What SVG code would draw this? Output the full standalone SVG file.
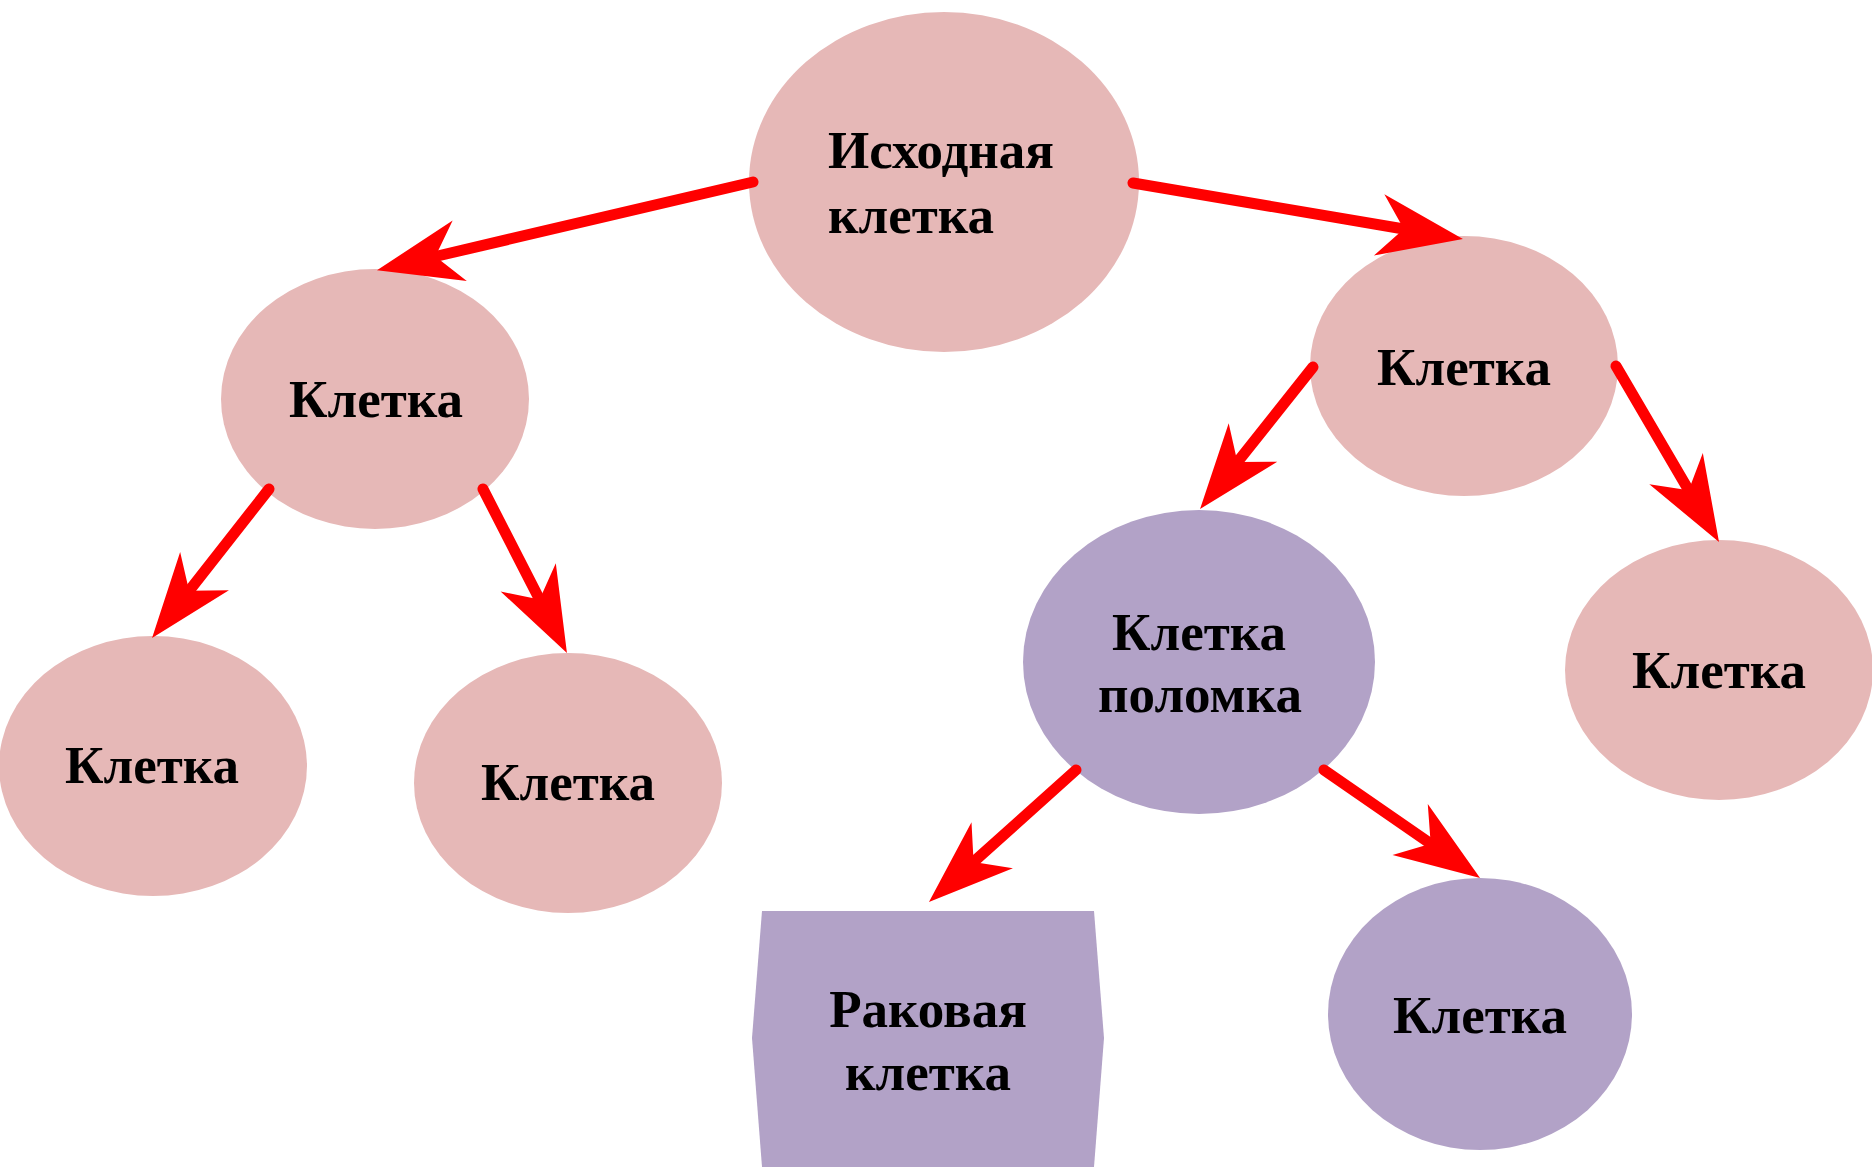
<svg xmlns="http://www.w3.org/2000/svg" width="1872" height="1167" viewBox="0 0 1872 1167">
<style>
.pink{fill:#E6B8B7}
.purple{fill:#B2A2C7}
.t{font-family:"Liberation Serif","Times New Roman",serif;font-weight:bold;font-size:53px;fill:#000;text-anchor:middle}
.tl{text-anchor:start}
.c{stroke:#FF0000;stroke-width:11;stroke-linecap:round;fill:none;marker-end:url(#ah)}
</style>
<defs>
<marker id="ah" markerUnits="userSpaceOnUse" markerWidth="86" markerHeight="64" refX="25" refY="31" orient="auto" overflow="visible">
<path d="M85,31 L0,0 L25,31 L0,62 Z" fill="#FF0000"/>
</marker>
</defs>
<rect width="1872" height="1167" fill="#FFFFFF"/>
<g id="root"><ellipse class="pink" cx="944" cy="182" rx="195" ry="170"/><text class="t tl" x="828" y="168">Исходная</text><text class="t tl" x="828" y="233">клетка</text></g>
<g id="left"><ellipse class="pink" cx="375" cy="399" rx="154" ry="130"/><text class="t" x="376" y="417">Клетка</text></g>
<g id="right"><ellipse class="pink" cx="1464" cy="366" rx="154" ry="130"/><text class="t" x="1464" y="385">Клетка</text></g>
<g id="leftleft"><ellipse class="pink" cx="153" cy="766" rx="154" ry="130"/><text class="t" x="152" y="783">Клетка</text></g>
<g id="leftright"><ellipse class="pink" cx="568" cy="783" rx="154" ry="130"/><text class="t" x="568" y="800">Клетка</text></g>
<g id="broken"><ellipse class="purple" cx="1199" cy="662" rx="176" ry="152"/><text class="t" x="1199" y="650">Клетка</text><text class="t" x="1200" y="712">поломка</text></g>
<g id="farright"><ellipse class="pink" cx="1719" cy="670" rx="154" ry="130"/><text class="t" x="1719" y="688">Клетка</text></g>
<g id="cancer"><polygon class="purple" points="762,911 1094,911 1104,1038 1094,1167 762,1167 752,1038"/><text class="t" x="928" y="1027">Раковая</text><text class="t" x="928" y="1090">клетка</text></g>
<g id="bottom"><ellipse class="purple" cx="1480" cy="1014" rx="152" ry="136"/><text class="t" x="1480" y="1033">Клетка</text></g>
<g id="connectors">
<line class="c" x1="753" y1="182" x2="435.4" y2="256.5"/>
<line class="c" x1="1133" y1="183" x2="1403.8" y2="229"/>
<line class="c" x1="269" y1="489" x2="189.1" y2="590.8"/>
<line class="c" x1="483" y1="489" x2="539.6" y2="599.6"/>
<line class="c" x1="1313" y1="367" x2="1237.4" y2="462.1"/>
<line class="c" x1="1616" y1="366" x2="1688.7" y2="490.2"/>
<line class="c" x1="1076" y1="770" x2="973.6" y2="861.9"/>
<line class="c" x1="1324" y1="770" x2="1430.7" y2="843.8"/>
</g>
</svg>
